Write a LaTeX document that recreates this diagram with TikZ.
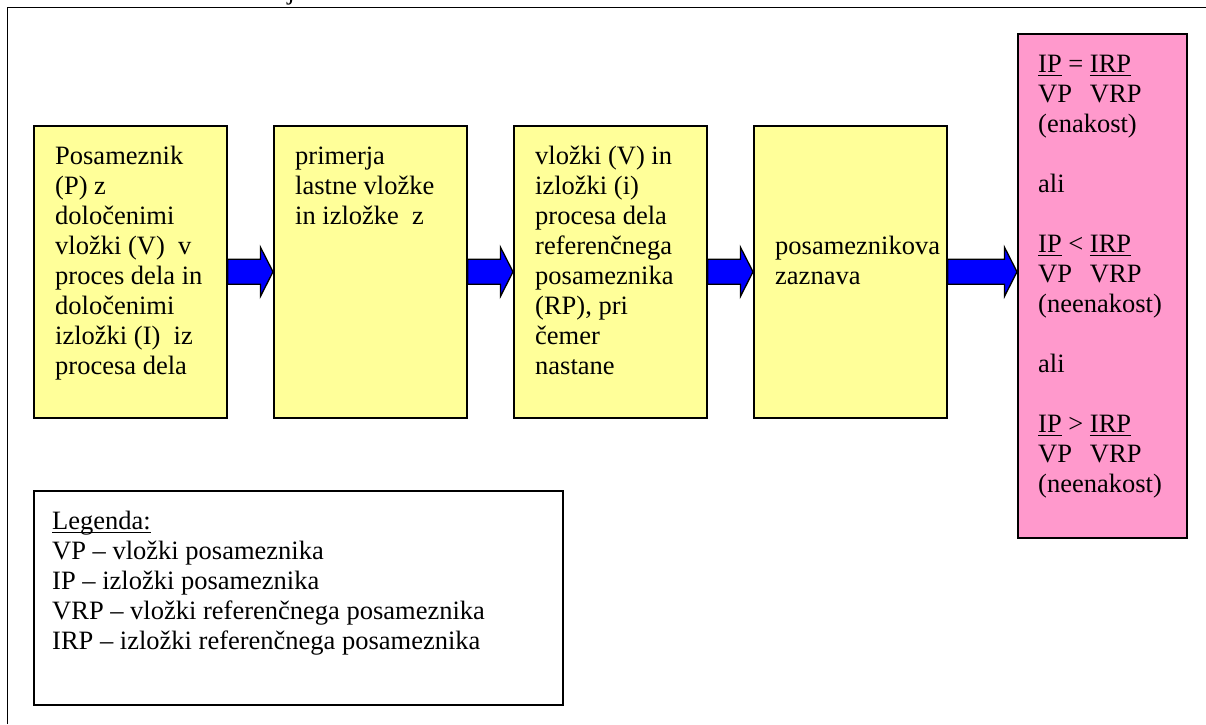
\documentclass[tikz,border=0pt]{standalone}
\usepackage{fontspec}
\setmainfont{Liberation Serif}
\usetikzlibrary{calc}

\definecolor{boxyellow}{HTML}{FFFF99}
\definecolor{boxpink}{HTML}{FF99CC}
\definecolor{arrowblue}{HTML}{0000FF}

% body text: Times-like, 30pt line pitch
\newcommand\bodyfont{\fontsize{26.5}{30}\selectfont}
% first-line strut so that a node's north edge sits 21pt above the first baseline
\newcommand\firstline{\rule{0pt}{21pt}}
% word-processor style underline at a fixed depth
\newsavebox\ulbox
\newcommand\ulword[1]{\sbox\ulbox{#1}\rlap{\rule[-4pt]{\wd\ulbox}{1.6pt}}\usebox\ulbox}
% fraction-like layout: denominator aligned under the right-hand term
\newsavebox\numbox
\newcommand\lowerrow{\sbox\numbox{IP\ =\ }\makebox[\wd\numbox][l]{VP}VRP}

% block arrow from the east side of #1 to the west side of #2
\newcommand\flowarrow[2]{%
  \draw[blockarrow]
    ($(#1.east)+(0,-12.5)$)
    -- ($(#2.west |- #1.east)+(-12.5,-12.5)$)
    -- ($(#2.west |- #1.east)+(-12.5,-24.5)$)
    -- (#2.west |- #1.east)
    -- ($(#2.west |- #1.east)+(-12.5,24.5)$)
    -- ($(#2.west |- #1.east)+(-12.5,12.5)$)
    -- ($(#1.east)+(0,12.5)$) -- cycle;}

\begin{document}
\begin{tikzpicture}[x=1pt,y=-1pt,
  stepbox/.style={draw=black, line width=1.6pt, fill=boxyellow, rectangle,
    inner sep=0pt, anchor=north west, minimum width=193pt, minimum height=292pt},
  resultbox/.style={stepbox, fill=boxpink, minimum width=169pt, minimum height=504pt},
  legendbox/.style={stepbox, fill=white, minimum width=529pt, minimum height=214pt},
  boxtext/.style={anchor=north west, inner sep=0pt, align=left, font=\bodyfont},
  blockarrow/.style={draw=black, line width=1.3pt, fill=arrowblue, line join=miter},
  frameline/.style={draw=black, line width=1.5pt},
]
\useasboundingbox (0,0) rectangle (1206,724);

% page frame (top and left edges) and the descender of a letter above it
\draw[frameline] (7.5,724) -- (7.5,7.5) -- (1206,7.5);
\node[font=\bodyfont, inner sep=0pt, anchor=base] (jfrag) at (291,-0.8) {j};

% process steps
\node[stepbox] (b1) at (33,125) {};
\node[stepbox] (b2) at (273,125) {};
\node[stepbox] (b3) at (513,125) {};
\node[stepbox] (b4) at (753,125) {};
\node[resultbox] (res) at (1017,33) {};
\node[legendbox] (leg) at (33,490) {};

\node[boxtext] (t1) at ($(b1.north west)+(22,18)$) {\firstline Posameznik\\(P) z\\določenimi\\vložki (V)\ \ v\\proces dela in\\določenimi\\izložki (I)\ \ iz\\procesa dela};
\node[boxtext] (t2) at ($(b2.north west)+(22,18)$) {\firstline primerja\\lastne vložke\\in izložke\ \ z};
\node[boxtext] (t3) at ($(b3.north west)+(22,18)$) {\firstline vložki (V) in\\izložki (i)\\procesa dela\\referenčnega\\posameznika\\(RP), pri\\čemer\\nastane};
\node[boxtext] (t4) at ($(b4.north west)+(22,108)$) {\firstline posameznikova\\zaznava};

\node[boxtext] (tres) at ($(res.north west)+(21,18)$) {\firstline
  \ulword{IP}\ =\ \ulword{IRP}\\\lowerrow\\(enakost)\\[30pt]
  ali\\[30pt]
  \ulword{IP}\ <\ \ulword{IRP}\\\lowerrow\\(neenakost)\\[30pt]
  ali\\[30pt]
  \ulword{IP}\ >\ \ulword{IRP}\\\lowerrow\\(neenakost)};

\node[boxtext] (tleg) at ($(leg.north west)+(19,18)$) {\firstline
  \ulword{Legenda:}\\
  VP – vložki posameznika\\
  IP – izložki posameznika\\
  VRP – vložki referenčnega posameznika\\
  IRP – izložki referenčnega posameznika};

% flow between the steps
\flowarrow{b1}{b2}
\flowarrow{b2}{b3}
\flowarrow{b3}{b4}
\flowarrow{b4}{res}
\end{tikzpicture}
\end{document}
